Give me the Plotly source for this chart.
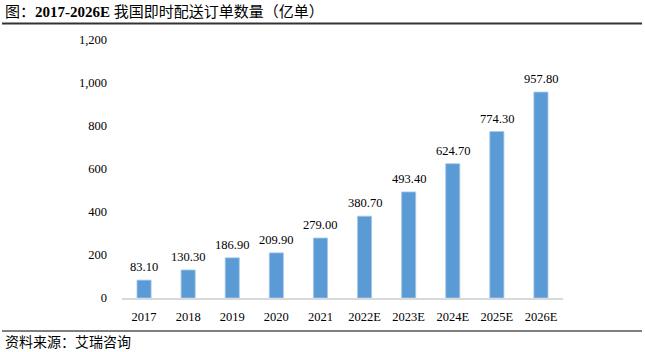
import plotly.graph_objects as go

categories = ["2017", "2018", "2019", "2020", "2021", "2022E", "2023E", "2024E", "2025E", "2026E"]
orders = [83.10, 130.30, 186.90, 209.90, 279.00, 380.70, 493.40, 624.70, 774.30, 957.80]
y_ticks = [0, 200, 400, 600, 800, 1000, 1200]
y_tick_labels = ["0", "200", "400", "600", "800", "1,000", "1,200"]

title_prefix = "图："
title_years = "2017-2026E"
title_rest = " 我国即时配送订单数量（亿单）"
source_text = "资料来源：艾瑞咨询"

L, R, T, B = 122, 82, 40, 54
W, H = 645, 352
pw = W - L - R
ph = H - T - B

def px_x(p):
    return (p - L) / pw

def px_y(p):
    return (H - B - p) / ph

serif = "Liberation Serif, Times New Roman, serif"
cjk = "Liberation Serif, Noto Sans CJK SC, serif"

fig = go.Figure(go.Bar(
    x=categories, y=orders,
    marker=dict(color="#5B9BD5", line=dict(color="#A9C8E8", width=0.8)),
    width=0.32,
    hoverinfo="x+y",
))

value_labels = [
    dict(x=i, y=v, xref="x", yref="y", text=f"{v:.2f}", showarrow=False,
         yanchor="bottom", xanchor="center", yshift=4,
         font=dict(family=serif, size=12.5, color="#000000"))
    for i, v in enumerate(orders)
]

fig.update_layout(
    width=W, height=H,
    margin=dict(l=L, r=R, t=T, b=B),
    paper_bgcolor="white", plot_bgcolor="white",
    showlegend=False,
    xaxis=dict(
        type="category",
        categoryorder="array", categoryarray=categories,
        range=[-0.5, len(categories) - 0.5],
        showline=True, linecolor="#D9D9D9", linewidth=1.5,
        showgrid=False, ticks="",
        tickfont=dict(family=serif, size=12.5, color="#000000"),
        ticklabelstandoff=6,
    ),
    yaxis=dict(
        range=[0, 1200],
        tickvals=y_ticks, ticktext=y_tick_labels,
        showgrid=False, zeroline=False, showline=False, ticks="",
        tickfont=dict(family=serif, size=12.5, color="#000000"),
        ticklabelstandoff=14,
    ),
    shapes=[
        dict(type="line", xref="paper", yref="paper",
             x0=px_x(2), x1=px_x(642), y0=px_y(23.5), y1=px_y(23.5),
             line=dict(color="#333333", width=2)),
        dict(type="line", xref="paper", yref="paper",
             x0=px_x(2), x1=px_x(642), y0=px_y(331), y1=px_y(331),
             line=dict(color="#555555", width=1.5)),
    ],
    annotations=value_labels + [
        dict(text=title_prefix + "<b>" + title_years + "</b>" + title_rest,
             xref="paper", yref="paper",
             x=px_x(3), y=px_y(12), xanchor="left", yanchor="middle",
             showarrow=False, font=dict(family=cjk, size=15, color="#000000")),
        dict(text=source_text, xref="paper", yref="paper",
             x=px_x(3), y=px_y(342), xanchor="left", yanchor="middle",
             showarrow=False, font=dict(family=cjk, size=14, color="#000000")),
    ],
)

fig.write_html("out.html")
